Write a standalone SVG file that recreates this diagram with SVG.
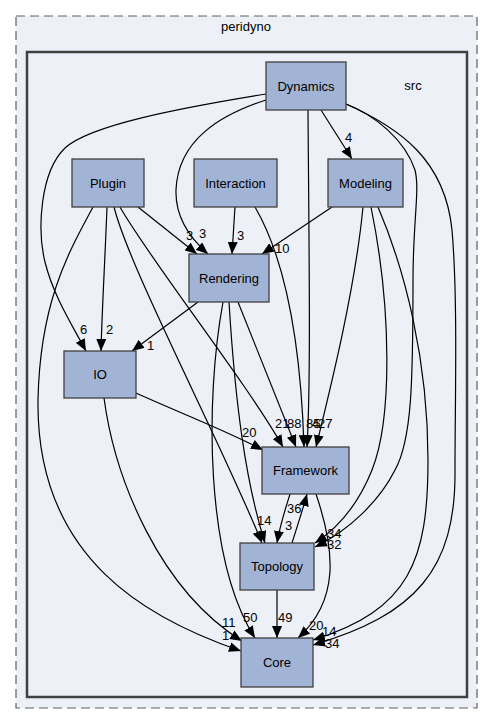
<svg xmlns="http://www.w3.org/2000/svg" width="493" height="724" viewBox="0 0 493 724">
<defs>
<style>
text{font-family:"Liberation Sans",Arial,sans-serif;font-size:13px;fill:#000}
.n rect{fill:#a2b4d6;stroke:#404040;stroke-width:1.3}
.n text{text-anchor:middle}
.e path{fill:none;stroke:#000;stroke-width:1.2;marker-end:url(#ah)}
</style>
<marker id="ah" markerUnits="userSpaceOnUse" markerWidth="12" markerHeight="10" refX="12" refY="5" orient="auto" viewBox="0 0 12 10">
<path d="M0,0 L12,5 L0,10 z" fill="#000"/>
</marker>
</defs>
<rect x="0" y="0" width="493" height="724" fill="#fff"/>
<g id="cluster_peridyno">
<rect x="16" y="16" width="461" height="692" fill="#edf0f7" stroke="#606060" stroke-width="1.2" stroke-dasharray="9,5"/>
<text x="246" y="31" text-anchor="middle">peridyno</text>
</g>
<g id="cluster_src">
<rect x="27" y="52" width="440" height="645" fill="#edf0f7" stroke="#404040" stroke-width="2.5"/>
<text x="413" y="90" text-anchor="middle">src</text>
</g>
<g id="connectors" class="e">
<path d="M321,110 L352,159"/><text x="345" y="142">4</text>
<path d="M266,100 C220,115 178,140 176,190 C175,220 192,240 208,254"/><text x="199" y="238">3</text>
<path d="M266,94 C180,108 90,125 65,148 C40,172 37,230 45,262 C53,295 72,325 86,351"/><text x="80" y="334">6</text>
<path d="M308,110 C309,250 311,380 307,447"/><text x="306" y="428">85</text>
<path d="M346,104 C375,115 405,140 415,170 C420,190 413,220 413,280 C413,380 412,440 395,470 C380,500 350,530 315,547"/><text x="327" y="538">34</text>
<path d="M107,207 C105,260 102,310 101,351"/><text x="106" y="334">2</text>
<path d="M138,207 L197,254"/><text x="186" y="240">3</text>
<path d="M120,207 C150,260 245,380 283,447"/><text x="275" y="428">21</text>
<path d="M114,207 C130,270 220,440 262,543"/><text x="257" y="525">14</text>
<path d="M93,207 C70,250 40,300 38,400 C36,560 150,620 241,651"/><text x="222" y="640">1</text>
<path d="M235,207 L232,254"/><text x="237" y="240">3</text>
<path d="M255,207 C280,250 300,320 304,447"/><text x="312" y="428">4</text>
<path d="M332,207 L262,254"/><text x="275" y="253">10</text>
<path d="M363,207 C355,290 330,390 316,447"/><text x="318" y="428">27</text>
<path d="M371,207 C392,310 392,420 372,470 C358,505 338,528 315,543"/><text x="327" y="549">32</text>
<path d="M378,207 C405,270 428,360 428,460 C428,560 410,610 313,640"/><text x="322" y="636">14</text>
<path d="M346,104 C400,128 445,160 452,230 C458,300 455,400 455,470 C456,570 415,615 313,645"/><text x="325" y="648">34</text>
<path d="M198,302 L132,351"/><text x="147" y="350">1</text>
<path d="M238,302 L296,447"/><text x="287" y="428">88</text>
<path d="M229,302 C235,400 245,480 265,543"/>
<path d="M223,302 C205,400 205,560 255,638"/><text x="243" y="622">50</text>
<path d="M136,393 C180,413 225,430 263,450"/><text x="242" y="437">20</text>
<path d="M104,398 C115,480 160,590 242,641"/><text x="222" y="627">11</text>
<path d="M290,494 C285,510 280,525 277,543"/><text x="285" y="530">3</text>
<path d="M316,494 C335,550 340,600 298,638"/><text x="309" y="630">20</text>
<path d="M292,543 C297,527 302,512 307,494"/><text x="287" y="513">36</text>
<path d="M277,590 L277,638"/><text x="278" y="622">49</text>
</g>
<g id="node_Dynamics" class="n"><rect x="266" y="62" width="80" height="48"/><text x="306" y="90.5">Dynamics</text></g>
<g id="node_Plugin" class="n"><rect x="72" y="159" width="72" height="48"/><text x="108" y="187.5">Plugin</text></g>
<g id="node_Interaction" class="n"><rect x="194" y="159" width="83" height="48"/><text x="235.5" y="187.5">Interaction</text></g>
<g id="node_Modeling" class="n"><rect x="328" y="159" width="75" height="48"/><text x="365.5" y="187.5">Modeling</text></g>
<g id="node_Rendering" class="n"><rect x="189" y="254" width="80" height="48"/><text x="229" y="282.5">Rendering</text></g>
<g id="node_IO" class="n"><rect x="64" y="351" width="72" height="47"/><text x="100" y="379">IO</text></g>
<g id="node_Framework" class="n"><rect x="262" y="447" width="87" height="47"/><text x="305.5" y="475">Framework</text></g>
<g id="node_Topology" class="n"><rect x="240" y="543" width="74" height="47"/><text x="277" y="571">Topology</text></g>
<g id="node_Core" class="n"><rect x="241" y="638" width="72" height="49"/><text x="277" y="667">Core</text></g>
</svg>
